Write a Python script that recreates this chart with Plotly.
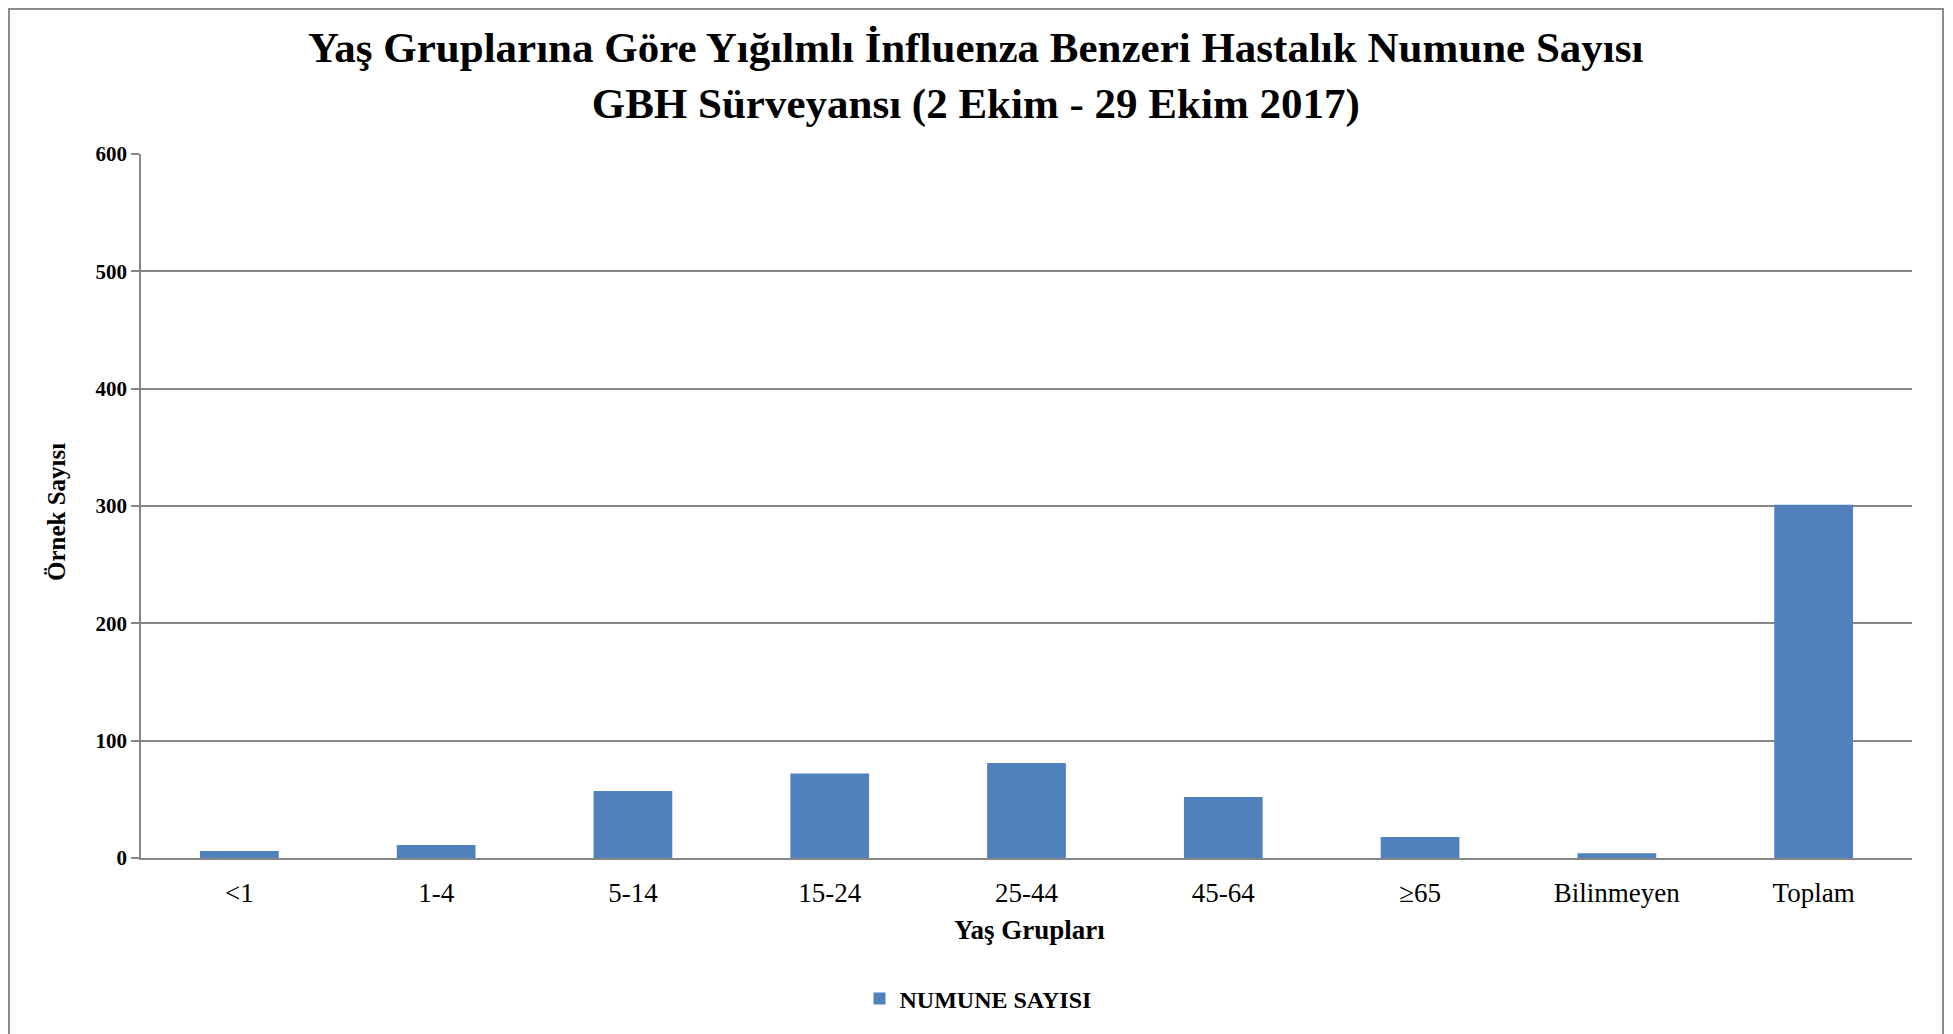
import plotly.graph_objects as go

categories = ["<1", "1-4", "5-14", "15-24", "25-44", "45-64", "≥65", "Bilinmeyen", "Toplam"]
numune_sayisi = [6, 11, 57, 72, 81, 52, 18, 4, 301]
y_ticks = [0, 100, 200, 300, 400, 500, 600]

FONT = "Liberation Serif, Times New Roman, serif"
OFF = 8  # page body margin
W, H = 1953 - OFF, 1034 - OFF
# plot area in page pixels: x 141..1912, y 154..858
L, T = 141 - OFF, 154 - OFF
pw, ph = 1771, 704
R, B = W - L - pw, H - T - ph

def px(x):
    return (x - OFF - L) / pw

def py(y):
    return (T + ph - (y - OFF)) / ph

fig = go.Figure()
fig.add_trace(go.Bar(
    x=categories, y=numune_sayisi, name="NUMUNE SAYISI",
    marker=dict(color="#4F81BD", line=dict(width=0)),
))

fig.update_layout(
    width=W, height=H,
    margin=dict(l=L, r=R, t=T, b=B, autoexpand=False),
    paper_bgcolor="white", plot_bgcolor="white",
    bargap=0.6,
    font=dict(family=FONT, color="black"),
    showlegend=True,
    legend=dict(orientation="h", x=px(978), xanchor="center", y=py(999), yanchor="middle",
                font=dict(family=FONT, size=24, color="black", weight="bold")),
    xaxis=dict(showgrid=False, showline=True, linecolor="#868686", linewidth=2,
               ticks="", ticklabelstandoff=10,
               tickfont=dict(family=FONT, size=27, color="black")),
    yaxis=dict(range=[0, 600], tickvals=y_ticks, showgrid=True, gridcolor="#868686", gridwidth=1.5,
               showline=True, linecolor="#868686", linewidth=1.5, ticks="outside", ticklen=8,
               tickcolor="#868686", tickwidth=1.5, zeroline=False,
               tickfont=dict(family=FONT, size=21, color="black", weight="bold")),
    annotations=[
        dict(text="<b>Yaş Gruplarına Göre Yığılmlı İnfluenza Benzeri Hastalık Numune Sayısı</b><br>"
                  "<b>GBH Sürveyansı (2 Ekim - 29 Ekim 2017)</b>",
             xref="paper", yref="paper", x=px(976), y=py(76), xanchor="center", yanchor="middle",
             showarrow=False, font=dict(family=FONT, size=43, color="black")),
        dict(text="<b>Yaş Grupları</b>", xref="paper", yref="paper", x=px(1029), y=py(930),
             xanchor="center", yanchor="middle", showarrow=False,
             font=dict(family=FONT, size=27, color="black")),
        dict(text="<b>Örnek Sayısı</b>", xref="paper", yref="paper", x=px(56), y=py(512),
             xanchor="center", yanchor="middle", showarrow=False, textangle=-90,
             font=dict(family=FONT, size=25, color="black")),
    ],
    shapes=[
        dict(type="rect", xref="paper", yref="paper", x0=px(9), x1=px(1943), y0=py(1060), y1=py(9),
             line=dict(color="#8c8c8c", width=2), fillcolor="rgba(0,0,0,0)", layer="below"),
    ],
)

fig.write_html("out.html")
